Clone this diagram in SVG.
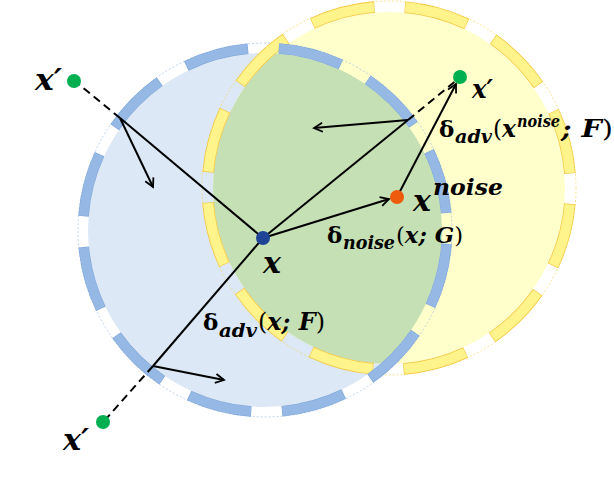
<svg xmlns="http://www.w3.org/2000/svg" width="614" height="484" viewBox="0 0 614 484">
<style>
.m{font-family:'DejaVu Serif','Liberation Serif',serif;font-weight:bold;font-style:italic;fill:#000}
.d{font-family:'DejaVu Serif','Liberation Serif',serif;font-weight:bold;font-style:normal;fill:#000}
.r{font-weight:normal;font-style:normal}
.ln{stroke:#000;stroke-width:2;fill:none}
.ds{stroke:#000;stroke-width:2;fill:none;stroke-dasharray:8 5}
.ar{stroke:#000;stroke-width:2;fill:none;marker-end:url(#ah)}
</style>
<defs>
<marker id="ah" viewBox="0 0 12 12" refX="10" refY="6" markerWidth="12" markerHeight="12" markerUnits="userSpaceOnUse" orient="auto">
<path d="M1.5,1.5 L10,6 L1.5,10.5" fill="none" stroke="#000" stroke-width="1.8"/>
</marker>
<clipPath id="cb"><circle cx="265" cy="230" r="177"/></clipPath>
</defs>
<rect width="614" height="484" fill="#fff"/>
<g id="regions">
<circle cx="265" cy="230" r="177" fill="#dce8f5"/>
<circle cx="389" cy="188" r="176" fill="#ffffcc"/>
<circle cx="389" cy="188" r="176" fill="#c5e0b4" clip-path="url(#cb)"/>
<circle cx="389" cy="188" r="187" fill="none" stroke="#f7d24e" stroke-width="0.6" stroke-dasharray="2 2"/>
<circle cx="265" cy="230" r="187" fill="none" stroke="#8fb4e3" stroke-width="0.6" stroke-dasharray="2 2"/>
<circle cx="389" cy="188" r="181.5" fill="none" pathLength="360" stroke="#f5c842" stroke-width="11.5" stroke-dasharray="20.4 9.6" stroke-dashoffset="-5"/>
<circle cx="389" cy="188" r="181.5" fill="none" pathLength="360" stroke="#fff38c" stroke-width="10" stroke-dasharray="20 10" stroke-dashoffset="-5.2"/>
<circle cx="265" cy="230" r="182" fill="none" pathLength="360" stroke="#7fa6d9" stroke-width="10.5" stroke-dasharray="20.3 9.7" stroke-dashoffset="-4.35"/>
<circle cx="265" cy="230" r="182" fill="none" pathLength="360" stroke="#95b8e4" stroke-width="9.5" stroke-dasharray="20 10" stroke-dashoffset="-4.5"/>
</g>
<g id="connectors">
<line class="ln" x1="263" y1="238" x2="120" y2="118"/>
<line class="ds" x1="120" y1="118" x2="76" y2="82"/>
<line class="ar" x1="120" y1="118" x2="153" y2="187"/>
<line class="ln" x1="263" y1="238" x2="153" y2="366"/>
<line class="ds" x1="153" y1="366" x2="105" y2="420"/>
<line class="ar" x1="153" y1="366" x2="224" y2="380"/>
<line class="ln" x1="263" y1="238" x2="408" y2="120"/>
<line class="ds" x1="408" y1="120" x2="458" y2="79"/>
<line class="ar" x1="408" y1="120" x2="314" y2="128"/>
<line class="ar" x1="263" y1="238" x2="389" y2="199"/>
<line class="ar" x1="397" y1="197" x2="456" y2="84"/>
</g>
<g id="x">
<circle cx="263" cy="238" r="7" fill="#1f4495"/>
<text class="m" x="263" y="273" font-size="30">x</text>
</g>
<g id="xnoise">
<circle cx="397" cy="197" r="7" fill="#ef5b0c"/>
<text class="m" x="413" y="211" font-size="30">x</text>
<text class="m" x="433" y="195" font-size="23" textLength="70" lengthAdjust="spacingAndGlyphs">noise</text>
</g>
<g id="xprime-tl">
<circle cx="74" cy="81" r="7" fill="#00b050"/>
<text class="m" x="35" y="90" font-size="29" textLength="27" lengthAdjust="spacingAndGlyphs">x′</text>
</g>
<g id="xprime-tr">
<circle cx="460" cy="77" r="7" fill="#00b050"/>
<text class="m" x="472" y="98" font-size="26" textLength="21" lengthAdjust="spacingAndGlyphs">x′</text>
</g>
<g id="xprime-bl">
<circle cx="103" cy="422" r="7" fill="#00b050"/>
<text class="m" x="63" y="450" font-size="30" textLength="26" lengthAdjust="spacingAndGlyphs">x′</text>
</g>
<g id="label-noise">
<text class="d" x="327" y="243" font-size="23">δ</text>
<text class="m" x="343" y="249" font-size="18" textLength="52" lengthAdjust="spacingAndGlyphs">noise</text>
<text class="m" x="396" y="243" font-size="23" textLength="67" lengthAdjust="spacingAndGlyphs"><tspan class="r">(</tspan>x; G<tspan class="r">)</tspan></text>
</g>
<g id="label-adv-noise">
<text class="d" x="439" y="137" font-size="23">δ</text>
<text class="m" x="455" y="143" font-size="18" textLength="37" lengthAdjust="spacingAndGlyphs">adv</text>
<text class="m" x="493" y="137" font-size="24" textLength="23" lengthAdjust="spacingAndGlyphs"><tspan class="r">(</tspan>x</text>
<text class="m" x="517" y="127" font-size="16" textLength="43" lengthAdjust="spacingAndGlyphs">noise</text>
<text class="m" x="561" y="137" font-size="24" textLength="52" lengthAdjust="spacingAndGlyphs">; F<tspan class="r">)</tspan></text>
</g>
<g id="label-adv">
<text class="d" x="203" y="330" font-size="23">δ</text>
<text class="m" x="219" y="337" font-size="18" textLength="38" lengthAdjust="spacingAndGlyphs">adv</text>
<text class="m" x="258" y="330" font-size="24" textLength="67" lengthAdjust="spacingAndGlyphs"><tspan class="r">(</tspan>x; F<tspan class="r">)</tspan></text>
</g>
</svg>
